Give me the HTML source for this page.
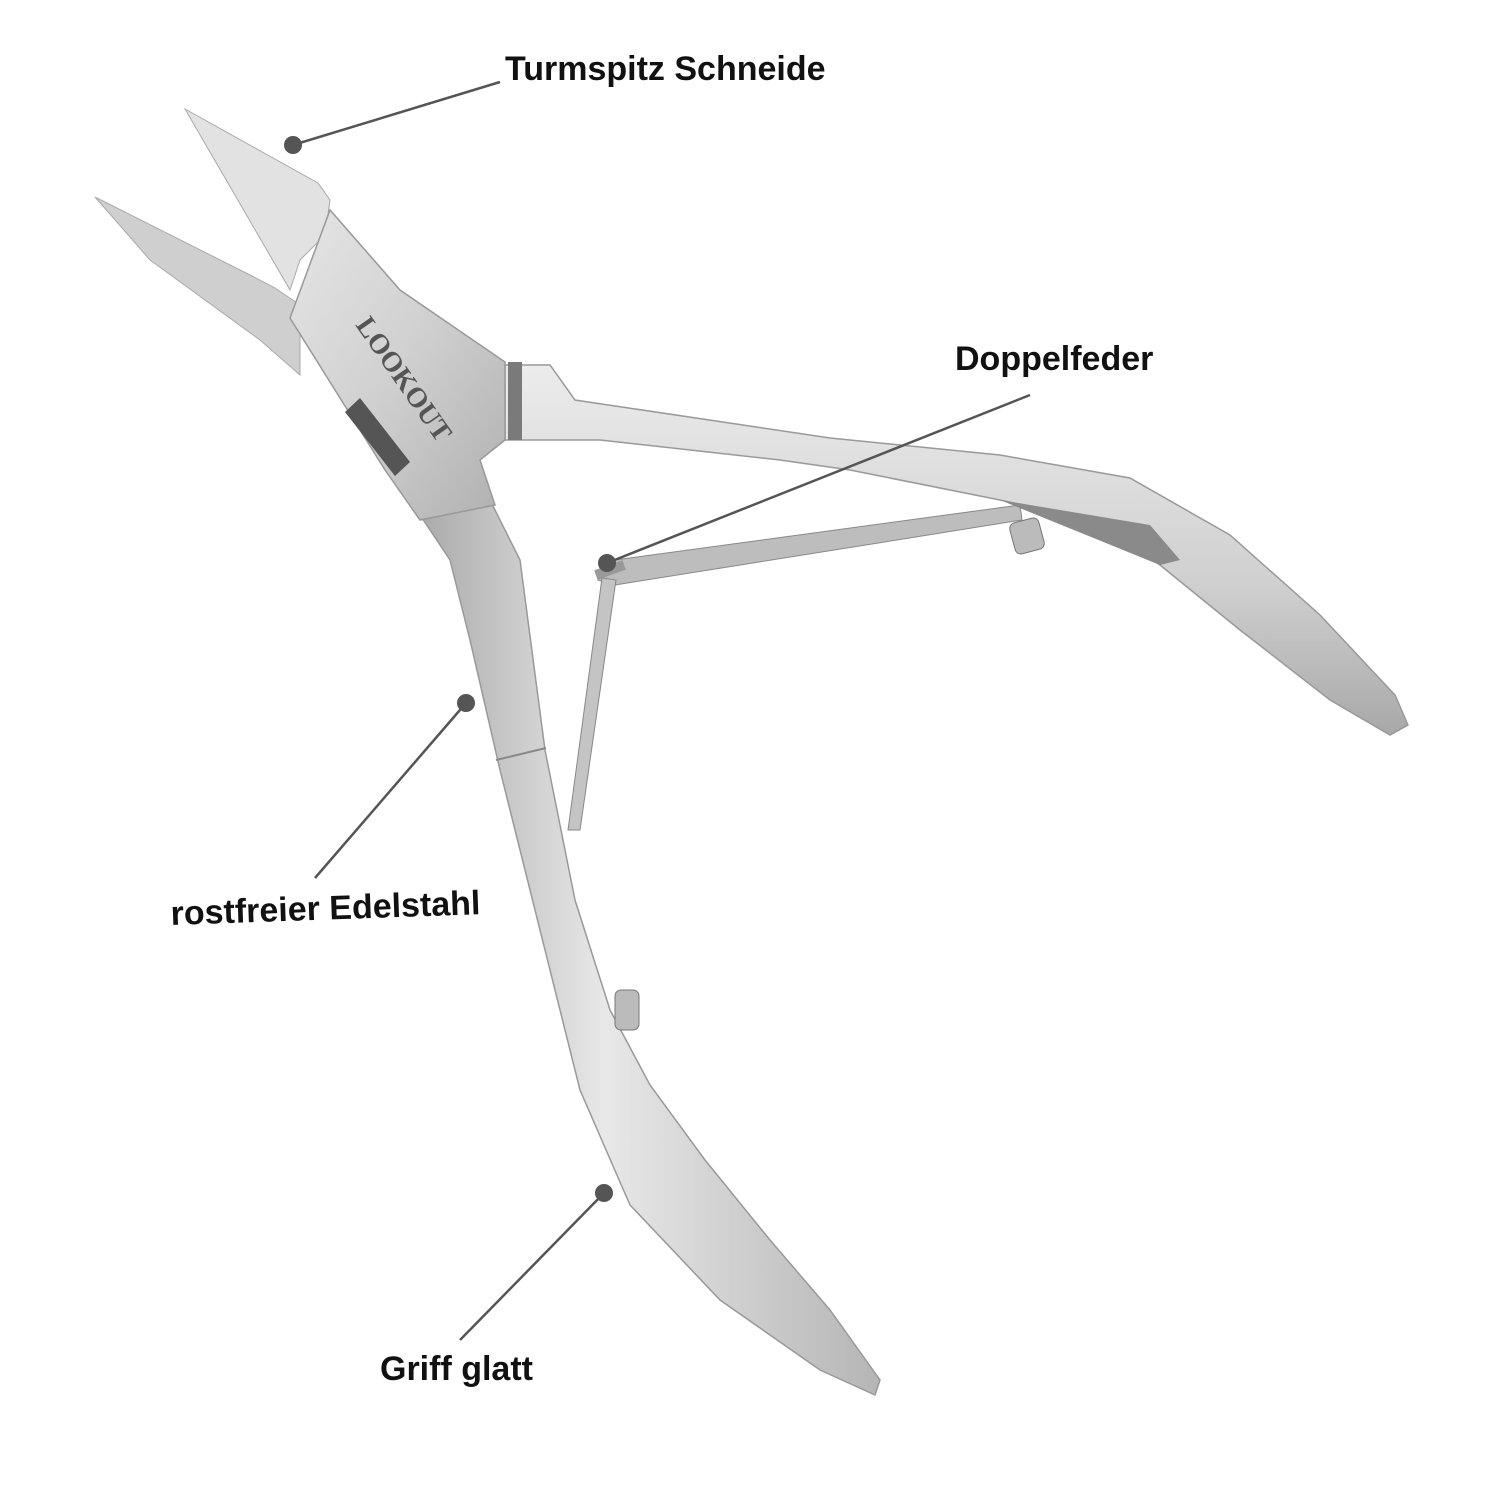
<!DOCTYPE html>
<html><head><meta charset="utf-8"><style>
html,body{margin:0;padding:0;background:#fff}
body{width:1500px;height:1500px;position:relative;overflow:hidden}
.l{position:absolute;font-family:"Liberation Sans",sans-serif;font-weight:bold;font-size:34px;color:#111;white-space:nowrap;transform-origin:left top}
</style></head><body>
<svg width="1500" height="1500" style="position:absolute;left:0;top:0">
<defs>
<linearGradient id="g1" x1="0" y1="0" x2="1" y2="1"><stop offset="0" stop-color="#e6e6e6"/><stop offset="0.5" stop-color="#d0d0d0"/><stop offset="1" stop-color="#b0b0b0"/></linearGradient>
<linearGradient id="g2" x1="0" y1="0" x2="1" y2="0"><stop offset="0" stop-color="#aaa"/><stop offset="0.4" stop-color="#e8e8e8"/><stop offset="1" stop-color="#b5b5b5"/></linearGradient>
<linearGradient id="g3" x1="0" y1="0" x2="0" y2="1"><stop offset="0" stop-color="#ececec"/><stop offset="0.6" stop-color="#cfcfcf"/><stop offset="1" stop-color="#a8a8a8"/></linearGradient>
</defs>
<!-- spring -->
<polygon points="598,580 615,560 1020,505 1022,520 615,585" fill="#bdbdbd" stroke="#888" stroke-width="1"/>
<polygon points="602,578 616,580 580,830 568,830" fill="#c4c4c4" stroke="#888" stroke-width="1"/>
<rect x="595" y="565" width="30" height="10" fill="#999" transform="rotate(-20 610 570)"/>
<!-- upper handle -->
<path d="M505,365 L550,365 L575,400 L830,438 L1000,455 L1130,478 L1230,535 L1320,615 L1395,695 L1408,725 L1390,735 L1330,700 L1240,630 L1160,565 L1100,522 L1000,500 L850,470 L780,460 L600,440 L505,440 Z" fill="url(#g3)" stroke="#999" stroke-width="1.5"/>
<path d="M1000,500 L1150,525 L1180,560 L1160,565 Z" fill="#8a8a8a"/>
<rect x="1012" y="520" width="30" height="32" rx="6" fill="#bbb" stroke="#777" transform="rotate(-15 1027 536)"/>
<rect x="508" y="362" width="14" height="78" fill="#7a7a7a"/>
<!-- lower handle -->
<path d="M420,515 L490,500 L520,560 L545,750 L575,900 L610,1010 L650,1085 L705,1160 L770,1240 L830,1310 L880,1380 L875,1395 L820,1370 L720,1300 L630,1205 L580,1090 L545,950 L500,770 L470,640 L450,560 Z" fill="url(#g2)" stroke="#999" stroke-width="1.5"/>
<line x1="496" y1="760" x2="546" y2="748" stroke="#888" stroke-width="2"/>
<rect x="615" y="990" width="24" height="40" rx="6" fill="#bbb" stroke="#777"/>
<!-- lower jaw -->
<polygon points="95,197 250,275 275,288 300,305 300,375 260,340 150,260" fill="#cfcfcf" stroke="#aaa"/>
<!-- upper jaw -->
<polygon points="185,109 318,183 330,200 325,235 300,260 290,290" fill="#e2e2e2" stroke="#aaa"/>
<!-- head plate -->
<polygon points="290,318 330,210 400,290 505,362 505,440 480,460 495,505 420,520 385,470" fill="url(#g1)" stroke="#999" stroke-width="1.5"/>
<polygon points="345,412 360,398 410,462 395,476" fill="#555"/>
<text x="0" y="0" transform="translate(355,325) rotate(55)" font-family="Liberation Serif,serif" font-weight="bold" font-size="28" fill="#555">LOOKOUT</text>
<!-- leaders -->
<g stroke="#555" stroke-width="2.5">
<line x1="293" y1="145" x2="500" y2="82"/>
<line x1="607" y1="563" x2="1030" y2="395"/>
<line x1="466" y1="703" x2="315" y2="878"/>
<line x1="604" y1="1193" x2="460" y2="1340"/>
</g>
<g fill="#555">
<circle cx="293" cy="145" r="9"/><circle cx="607" cy="563" r="9"/><circle cx="466" cy="703" r="9"/><circle cx="604" cy="1193" r="9"/>
</g>
</svg>
<div class="l" style="left:505px;top:50px">Turmspitz Schneide</div>
<div class="l" style="left:955px;top:340px">Doppelfeder</div>
<div class="l" style="left:170px;top:895px;transform:rotate(-2deg)">rostfreier Edelstahl</div>
<div class="l" style="left:380px;top:1350px">Griff glatt</div>
</body></html>
